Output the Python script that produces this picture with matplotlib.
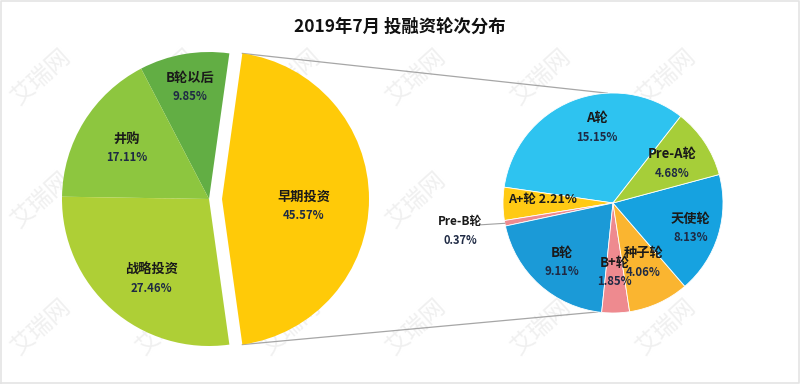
import matplotlib
matplotlib.use('Agg')
import matplotlib.pyplot as plt
import numpy as np

plt.rcParams['font.family'] = ['Noto Sans CJK SC', 'DejaVu Sans']

title = '2019年7月 投融资轮次分布'
watermark = '艾瑞网'

main_labels = ['早期投资', 'B轮以后', '井购', '战略投资']
main_values = [45.57, 9.85, 17.11, 27.46]
main_colors = ['#FFCA08', '#62AE44', '#8DC63F', '#AECF36']

sub_labels = ['A轮', 'A+轮', 'Pre-B轮', 'B轮', 'B+轮', '种子轮', '天使轮', 'Pre-A轮']
sub_values = [15.15, 2.21, 0.37, 9.11, 1.85, 4.06, 8.13, 4.68]
sub_colors = ['#2EC3F0', '#FFCA14', '#EE8A8F', '#1B9AD7', '#EE8A8F', '#FAB530', '#16A2E0', '#A6CE39']

W, H = 800, 384
fig = plt.figure(figsize=(8, 3.84), dpi=100)
ax = fig.add_axes([0, 0, 1, 1])

L_C = (209, 185)
L_R = 147
R_C = (613, 181)
R_R = 110
explode_px = 13

# ---- faint background watermark
for gx in np.arange(42, W - 60, 125):
    for gy in (H - 77, H - 200, H - 327):
        ax.text(gx, gy, watermark, rotation=42, ha='center', va='center',
                fontsize=17, color='#f0f0f0', zorder=0)

# ---- main pie
main_start = -360 * main_values[0] / sum(main_values) / 2
wl, _ = ax.pie(main_values, colors=main_colors, center=L_C, radius=L_R,
               startangle=main_start, counterclock=True, frame=True,
               wedgeprops=dict(linewidth=0))
yc = (L_C[0] + explode_px, L_C[1])
wl[0].set_center(yc)

# ---- sub pie
wr, _ = ax.pie(sub_values, colors=sub_colors, center=R_C, radius=R_R,
               startangle=52, counterclock=True, frame=True,
               wedgeprops=dict(linewidth=0.6, edgecolor='white'))

ax.set_xlim(0, W)
ax.set_ylim(0, H)
ax.set_aspect('equal')
ax.axis('off')

name_c = '#1a1a1a'
pct_c = '#1f2a44'


def put_label(center, r, w, frac, dth, name, pct, gap=9.5, fs1=9.5, fs2=8.2):
    th = np.deg2rad((w.theta1 + w.theta2) / 2 + dth)
    x = center[0] + frac * r * np.cos(th)
    y = center[1] + frac * r * np.sin(th)
    ax.text(x, y + gap, name, ha='center', va='center', fontsize=fs1,
            fontweight='bold', color=name_c)
    ax.text(x, y - gap, pct, ha='center', va='center', fontsize=fs2,
            fontweight='bold', color=pct_c)


main_pos = [(0.56, -5), (0.77, 0), (0.66, 0), (0.67, 6)]
for i, w in enumerate(wl):
    c = yc if i == 0 else L_C
    put_label(c, L_R, w, main_pos[i][0], main_pos[i][1],
              main_labels[i], f'{main_values[i]:.2f}%')

sub_pos = {0: (0.70, -10), 3: (0.71, 1), 4: (0.63, 0), 5: (0.61, 2),
           6: (0.74, -1), 7: (0.65, 0)}
for i, w in enumerate(wr):
    if i in sub_pos:
        put_label(R_C, R_R, w, sub_pos[i][0], sub_pos[i][1],
                  sub_labels[i], f'{sub_values[i]:.2f}%', fs1=9.5)

# A+ single line
w = wr[1]
th = np.deg2rad((w.theta1 + w.theta2) / 2 - 3)
ax.text(R_C[0] + 0.64 * R_R * np.cos(th), R_C[1] + 0.64 * R_R * np.sin(th),
        f'{sub_labels[1]} {sub_values[1]:.2f}%', ha='center', va='center',
        fontsize=9, fontweight='bold', color=name_c)

# Pre-B outside label with leader
w = wr[2]
th = np.deg2rad((w.theta1 + w.theta2) / 2)
ex = R_C[0] + R_R * np.cos(th)
ey = R_C[1] + R_R * np.sin(th)
ax.plot([ex - 24, ex], [ey - 1.5, ey], color='#a0a0a0', lw=0.8)
ax.text(ex - 45, ey + 2, sub_labels[2], ha='center', va='center',
        fontsize=8.5, fontweight='bold', color=name_c)
ax.text(ex - 45, ey - 17, f'{sub_values[2]:.2f}%', ha='center', va='center',
        fontsize=8, fontweight='bold', color=pct_c)

# connector lines
w0 = wl[0]
t2 = np.deg2rad(w0.theta2)
t1 = np.deg2rad(w0.theta1)
top0 = (yc[0] + L_R * np.cos(t2), yc[1] + L_R * np.sin(t2))
bot0 = (yc[0] + L_R * np.cos(t1), yc[1] + L_R * np.sin(t1))
ta = np.deg2rad(93)
ba = np.deg2rad(-98)
top1 = (R_C[0] + R_R * np.cos(ta), R_C[1] + R_R * np.sin(ta))
bot1 = (R_C[0] + R_R * np.cos(ba), R_C[1] + R_R * np.sin(ba))
ax.plot([top0[0], top1[0]], [top0[1], top1[1]], color='#a6a6a6', lw=0.9, zorder=0.5)
ax.plot([bot0[0], bot1[0]], [bot0[1], bot1[1]], color='#a6a6a6', lw=0.9, zorder=0.5)

ax.text(W / 2, H - 27, title, ha='center', va='center', fontsize=12.5,
        fontweight='bold', color='#111111')

# light frame
ax.plot([1, W - 1, W - 1, 1, 1], [1, 1, H - 1, H - 1, 1], color='#e4e4e4', lw=1.2)

fig.savefig('out.png', dpi=100, facecolor='white')
